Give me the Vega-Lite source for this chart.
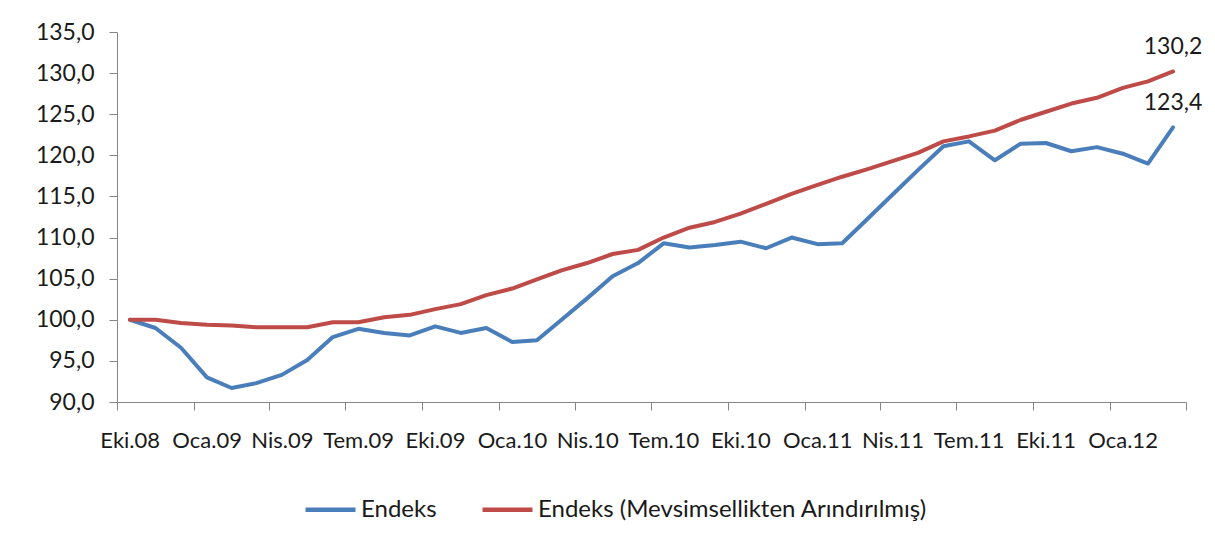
{
  "$schema": "https://vega.github.io/schema/vega-lite/v6.json",
  "width": 1069,
  "height": 370,
  "autosize": {"type": "none"},
  "padding": {"left": 117, "top": 32, "right": 29, "bottom": 142},
  "background": "white",
  "config": {
    "view": {"stroke": null},
    "font": "Lato",
    "locale": {
      "number": {"decimal": ",", "thousands": ".", "grouping": [3], "currency": ["", " TL"]},
      "time": {
        "dateTime": "%A, %e %B %Y %X",
        "date": "%d.%m.%Y",
        "time": "%H:%M:%S",
        "periods": ["AM", "PM"],
        "days": ["Pazar", "Pazartesi", "Salı", "Çarşamba", "Perşembe", "Cuma", "Cumartesi"],
        "shortDays": ["Paz", "Pzt", "Sal", "Çar", "Per", "Cum", "Cmt"],
        "months": ["Ocak", "Şubat", "Mart", "Nisan", "Mayıs", "Haziran", "Temmuz", "Ağustos", "Eylül", "Ekim", "Kasım", "Aralık"],
        "shortMonths": ["Oca", "Şub", "Mar", "Nis", "May", "Haz", "Tem", "Ağu", "Eyl", "Eki", "Kas", "Ara"]
      }
    },
    "axis": {
      "grid": false,
      "domainColor": "#868686",
      "tickColor": "#868686",
      "tickSize": 8,
      "labelFont": "Lato",
      "labelFontSize": 23,
      "labelColor": "#1a1a1a",
      "title": null
    }
  },
  "data": {
    "values": [
      {"ay": "2008-10-01", "seri": "Endeks", "deger": 100.0},
      {"ay": "2008-11-01", "seri": "Endeks", "deger": 99.0},
      {"ay": "2008-12-01", "seri": "Endeks", "deger": 96.6},
      {"ay": "2009-01-01", "seri": "Endeks", "deger": 93.0},
      {"ay": "2009-02-01", "seri": "Endeks", "deger": 91.7},
      {"ay": "2009-03-01", "seri": "Endeks", "deger": 92.3},
      {"ay": "2009-04-01", "seri": "Endeks", "deger": 93.3},
      {"ay": "2009-05-01", "seri": "Endeks", "deger": 95.1},
      {"ay": "2009-06-01", "seri": "Endeks", "deger": 97.9},
      {"ay": "2009-07-01", "seri": "Endeks", "deger": 98.9},
      {"ay": "2009-08-01", "seri": "Endeks", "deger": 98.4},
      {"ay": "2009-09-01", "seri": "Endeks", "deger": 98.1},
      {"ay": "2009-10-01", "seri": "Endeks", "deger": 99.2},
      {"ay": "2009-11-01", "seri": "Endeks", "deger": 98.4},
      {"ay": "2009-12-01", "seri": "Endeks", "deger": 99.0},
      {"ay": "2010-01-01", "seri": "Endeks", "deger": 97.3},
      {"ay": "2010-02-01", "seri": "Endeks", "deger": 97.5},
      {"ay": "2010-03-01", "seri": "Endeks", "deger": 100.0},
      {"ay": "2010-04-01", "seri": "Endeks", "deger": 102.6},
      {"ay": "2010-05-01", "seri": "Endeks", "deger": 105.3},
      {"ay": "2010-06-01", "seri": "Endeks", "deger": 106.9},
      {"ay": "2010-07-01", "seri": "Endeks", "deger": 109.3},
      {"ay": "2010-08-01", "seri": "Endeks", "deger": 108.8},
      {"ay": "2010-09-01", "seri": "Endeks", "deger": 109.1},
      {"ay": "2010-10-01", "seri": "Endeks", "deger": 109.5},
      {"ay": "2010-11-01", "seri": "Endeks", "deger": 108.7},
      {"ay": "2010-12-01", "seri": "Endeks", "deger": 110.0},
      {"ay": "2011-01-01", "seri": "Endeks", "deger": 109.2},
      {"ay": "2011-02-01", "seri": "Endeks", "deger": 109.3},
      {"ay": "2011-03-01", "seri": "Endeks", "deger": 112.2},
      {"ay": "2011-04-01", "seri": "Endeks", "deger": 115.2},
      {"ay": "2011-05-01", "seri": "Endeks", "deger": 118.2},
      {"ay": "2011-06-01", "seri": "Endeks", "deger": 121.1},
      {"ay": "2011-07-01", "seri": "Endeks", "deger": 121.7},
      {"ay": "2011-08-01", "seri": "Endeks", "deger": 119.4},
      {"ay": "2011-09-01", "seri": "Endeks", "deger": 121.4},
      {"ay": "2011-10-01", "seri": "Endeks", "deger": 121.5},
      {"ay": "2011-11-01", "seri": "Endeks", "deger": 120.5},
      {"ay": "2011-12-01", "seri": "Endeks", "deger": 121.0},
      {"ay": "2012-01-01", "seri": "Endeks", "deger": 120.2},
      {"ay": "2012-02-01", "seri": "Endeks", "deger": 119.0},
      {"ay": "2012-03-01", "seri": "Endeks", "deger": 123.4},
      {"ay": "2008-10-01", "seri": "Endeks (Mevsimsellikten Arındırılmış)", "deger": 100.0},
      {"ay": "2008-11-01", "seri": "Endeks (Mevsimsellikten Arındırılmış)", "deger": 100.0},
      {"ay": "2008-12-01", "seri": "Endeks (Mevsimsellikten Arındırılmış)", "deger": 99.6},
      {"ay": "2009-01-01", "seri": "Endeks (Mevsimsellikten Arındırılmış)", "deger": 99.4},
      {"ay": "2009-02-01", "seri": "Endeks (Mevsimsellikten Arındırılmış)", "deger": 99.3},
      {"ay": "2009-03-01", "seri": "Endeks (Mevsimsellikten Arındırılmış)", "deger": 99.1},
      {"ay": "2009-04-01", "seri": "Endeks (Mevsimsellikten Arındırılmış)", "deger": 99.1},
      {"ay": "2009-05-01", "seri": "Endeks (Mevsimsellikten Arındırılmış)", "deger": 99.1},
      {"ay": "2009-06-01", "seri": "Endeks (Mevsimsellikten Arındırılmış)", "deger": 99.7},
      {"ay": "2009-07-01", "seri": "Endeks (Mevsimsellikten Arındırılmış)", "deger": 99.7},
      {"ay": "2009-08-01", "seri": "Endeks (Mevsimsellikten Arındırılmış)", "deger": 100.3},
      {"ay": "2009-09-01", "seri": "Endeks (Mevsimsellikten Arındırılmış)", "deger": 100.6},
      {"ay": "2009-10-01", "seri": "Endeks (Mevsimsellikten Arındırılmış)", "deger": 101.3},
      {"ay": "2009-11-01", "seri": "Endeks (Mevsimsellikten Arındırılmış)", "deger": 101.9},
      {"ay": "2009-12-01", "seri": "Endeks (Mevsimsellikten Arındırılmış)", "deger": 103.0},
      {"ay": "2010-01-01", "seri": "Endeks (Mevsimsellikten Arındırılmış)", "deger": 103.8},
      {"ay": "2010-02-01", "seri": "Endeks (Mevsimsellikten Arındırılmış)", "deger": 104.9},
      {"ay": "2010-03-01", "seri": "Endeks (Mevsimsellikten Arındırılmış)", "deger": 106.0},
      {"ay": "2010-04-01", "seri": "Endeks (Mevsimsellikten Arındırılmış)", "deger": 106.9},
      {"ay": "2010-05-01", "seri": "Endeks (Mevsimsellikten Arındırılmış)", "deger": 108.0},
      {"ay": "2010-06-01", "seri": "Endeks (Mevsimsellikten Arındırılmış)", "deger": 108.5},
      {"ay": "2010-07-01", "seri": "Endeks (Mevsimsellikten Arındırılmış)", "deger": 110.0},
      {"ay": "2010-08-01", "seri": "Endeks (Mevsimsellikten Arındırılmış)", "deger": 111.2},
      {"ay": "2010-09-01", "seri": "Endeks (Mevsimsellikten Arındırılmış)", "deger": 111.9},
      {"ay": "2010-10-01", "seri": "Endeks (Mevsimsellikten Arındırılmış)", "deger": 112.9},
      {"ay": "2010-11-01", "seri": "Endeks (Mevsimsellikten Arındırılmış)", "deger": 114.1},
      {"ay": "2010-12-01", "seri": "Endeks (Mevsimsellikten Arındırılmış)", "deger": 115.3},
      {"ay": "2011-01-01", "seri": "Endeks (Mevsimsellikten Arındırılmış)", "deger": 116.4},
      {"ay": "2011-02-01", "seri": "Endeks (Mevsimsellikten Arındırılmış)", "deger": 117.4},
      {"ay": "2011-03-01", "seri": "Endeks (Mevsimsellikten Arındırılmış)", "deger": 118.3},
      {"ay": "2011-04-01", "seri": "Endeks (Mevsimsellikten Arındırılmış)", "deger": 119.3},
      {"ay": "2011-05-01", "seri": "Endeks (Mevsimsellikten Arındırılmış)", "deger": 120.3},
      {"ay": "2011-06-01", "seri": "Endeks (Mevsimsellikten Arındırılmış)", "deger": 121.7},
      {"ay": "2011-07-01", "seri": "Endeks (Mevsimsellikten Arındırılmış)", "deger": 122.3},
      {"ay": "2011-08-01", "seri": "Endeks (Mevsimsellikten Arındırılmış)", "deger": 123.0},
      {"ay": "2011-09-01", "seri": "Endeks (Mevsimsellikten Arındırılmış)", "deger": 124.3},
      {"ay": "2011-10-01", "seri": "Endeks (Mevsimsellikten Arındırılmış)", "deger": 125.3},
      {"ay": "2011-11-01", "seri": "Endeks (Mevsimsellikten Arındırılmış)", "deger": 126.3},
      {"ay": "2011-12-01", "seri": "Endeks (Mevsimsellikten Arındırılmış)", "deger": 127.0},
      {"ay": "2012-01-01", "seri": "Endeks (Mevsimsellikten Arındırılmış)", "deger": 128.2},
      {"ay": "2012-02-01", "seri": "Endeks (Mevsimsellikten Arındırılmış)", "deger": 129.0},
      {"ay": "2012-03-01", "seri": "Endeks (Mevsimsellikten Arındırılmış)", "deger": 130.2}
    ]
  },
  "encoding": {
    "x": {
      "field": "ay",
      "type": "temporal",
      "timeUnit": "utcyearmonth",
      "bandPosition": 0.5,
      "scale": {
        "type": "utc",
        "domain": [
          {"year": 2008, "month": 10, "date": 1, "utc": true},
          {"year": 2012, "month": 4, "date": 1, "utc": true}
        ]
      },
      "axis": {
        "values": [
          {"year": 2008, "month": 10, "date": 1, "utc": true},
          {"year": 2009, "month": 1, "date": 1, "utc": true},
          {"year": 2009, "month": 4, "date": 1, "utc": true},
          {"year": 2009, "month": 7, "date": 1, "utc": true},
          {"year": 2009, "month": 10, "date": 1, "utc": true},
          {"year": 2010, "month": 1, "date": 1, "utc": true},
          {"year": 2010, "month": 4, "date": 1, "utc": true},
          {"year": 2010, "month": 7, "date": 1, "utc": true},
          {"year": 2010, "month": 10, "date": 1, "utc": true},
          {"year": 2011, "month": 1, "date": 1, "utc": true},
          {"year": 2011, "month": 4, "date": 1, "utc": true},
          {"year": 2011, "month": 7, "date": 1, "utc": true},
          {"year": 2011, "month": 10, "date": 1, "utc": true},
          {"year": 2012, "month": 1, "date": 1, "utc": true},
          {"year": 2012, "month": 4, "date": 1, "utc": true}
        ],
        "labelExpr": "utcyear(datum.value) == 2012 && utcmonth(datum.value) == 3 ? '' : utcFormat(datum.value, '%b.%y')",
        "labelOffset": 12.7,
        "labelPadding": 20,
        "labelFontSize": 22,
        "labelOverlap": false,
        "labelFlush": false,
        "labelBound": false
      }
    },
    "y": {
      "field": "deger",
      "type": "quantitative",
      "scale": {"domain": [90, 135], "nice": false, "zero": false},
      "axis": {
        "values": [90, 95, 100, 105, 110, 115, 120, 125, 130, 135],
        "format": ".1f",
        "labelPadding": 15
      }
    }
  },
  "layer": [
    {
      "mark": {"type": "line", "strokeWidth": 4, "strokeJoin": "round", "strokeCap": "round"},
      "encoding": {
        "color": {
          "field": "seri",
          "type": "nominal",
          "scale": {
            "domain": ["Endeks", "Endeks (Mevsimsellikten Arındırılmış)"],
            "range": ["#4A7EBB", "#BE4B48"]
          },
          "legend": {
            "orient": "none",
            "direction": "horizontal",
            "legendX": 186,
            "legendY": 450,
            "title": null,
            "symbolType": "stroke",
            "symbolSize": 2500,
            "symbolStrokeWidth": 4.5,
            "labelFont": "Lato",
            "labelFontSize": 24,
            "labelColor": "#1a1a1a",
            "labelOffset": 3,
            "columnPadding": 36,
            "labelLimit": 600
          }
        }
      }
    },
    {
      "transform": [{"filter": "utcyear(datum.ay) == 2012 && utcmonth(datum.ay) == 2"}],
      "mark": {"type": "text", "baseline": "bottom", "align": "center", "dy": -12, "font": "Lato", "fontSize": 23, "color": "#1a1a1a"},
      "encoding": {
        "text": {"field": "deger", "type": "quantitative", "format": ".1f"}
      }
    }
  ]
}
